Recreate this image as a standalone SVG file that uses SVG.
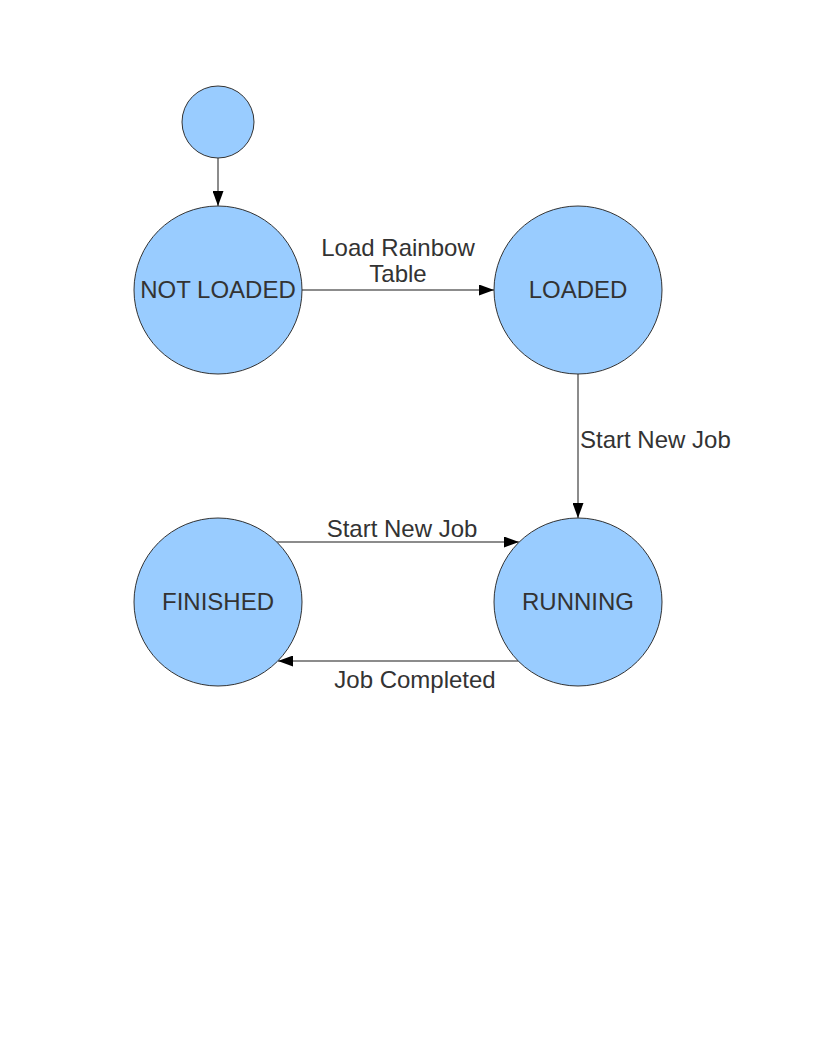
<svg xmlns="http://www.w3.org/2000/svg" width="816" height="1056" viewBox="0 0 816 1056">
<style>
.node{fill:#99ccff;stroke:#333333;stroke-width:1}
.lbl{font-family:"Liberation Sans",Arial,sans-serif;font-size:24px;fill:#333333;text-anchor:middle}
.edge{stroke:#666666;stroke-width:1.5;fill:none}
</style>
<defs>
<marker id="arr" viewBox="0 0 15 11" refX="15" refY="5.5" markerWidth="15" markerHeight="11" markerUnits="userSpaceOnUse" orient="auto">
<path d="M0,0 L15,5.5 L0,11 Z" fill="#000000"/>
</marker>
</defs>
<rect width="816" height="1056" fill="#ffffff"/>
<g id="edges">
<line class="edge" x1="218" y1="158" x2="218" y2="206" marker-end="url(#arr)"/>
<line class="edge" x1="302" y1="290" x2="494" y2="290" marker-end="url(#arr)"/>
<line class="edge" x1="578" y1="374" x2="578" y2="518" marker-end="url(#arr)"/>
<line class="edge" x1="277" y1="542" x2="519" y2="542" marker-end="url(#arr)"/>
<line class="edge" x1="519" y1="661" x2="278" y2="661" marker-end="url(#arr)"/>
<text class="lbl" x="398" y="256">Load Rainbow</text>
<text class="lbl" x="398" y="282">Table</text>
<text class="lbl" x="580" y="448" style="text-anchor:start">Start New Job</text>
<text class="lbl" x="402" y="537">Start New Job</text>
<text class="lbl" x="415" y="688">Job Completed</text>
</g>
<g id="start"><circle class="node" cx="218" cy="122" r="36"/></g>
<g id="not-loaded"><circle class="node" cx="218" cy="290" r="84"/><text class="lbl" x="218" y="298">NOT LOADED</text></g>
<g id="loaded"><circle class="node" cx="578" cy="290" r="84"/><text class="lbl" x="578" y="298">LOADED</text></g>
<g id="finished"><circle class="node" cx="218" cy="602" r="84"/><text class="lbl" x="218" y="610">FINISHED</text></g>
<g id="running"><circle class="node" cx="578" cy="602" r="84"/><text class="lbl" x="578" y="610">RUNNING</text></g>
</svg>
